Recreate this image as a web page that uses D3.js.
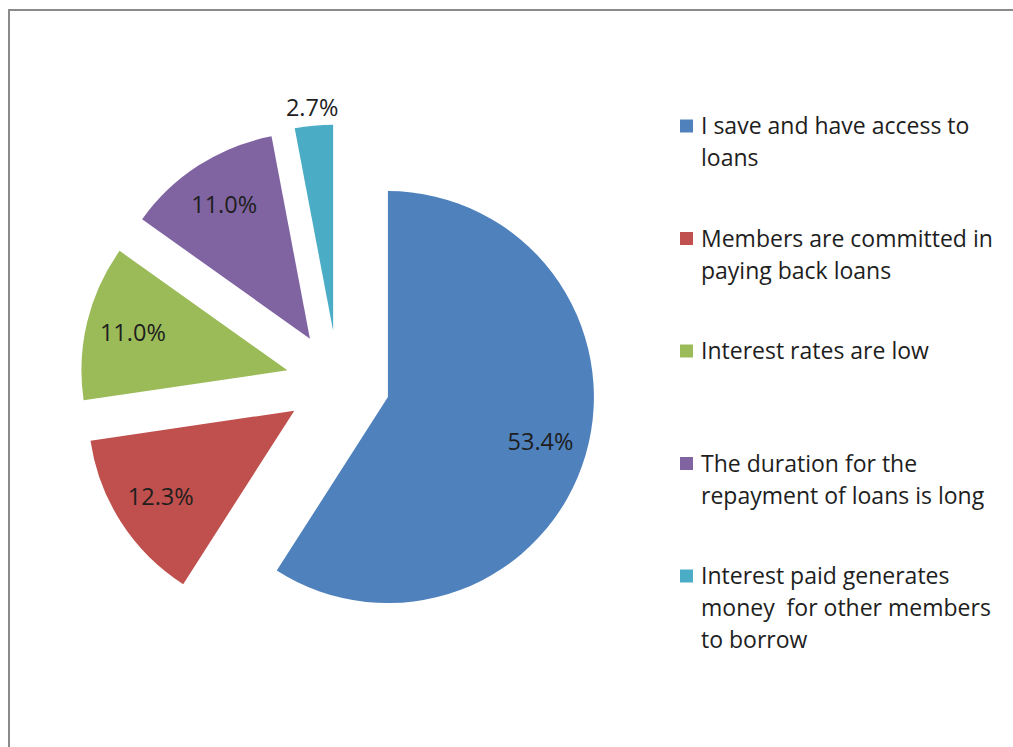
<!DOCTYPE html>
<html>
<head>
<meta charset="utf-8">
<script src="https://cdn.jsdelivr.net/npm/d3@7"></script>
<style>
  html, body { margin: 0; padding: 0; background: #fff; }
  svg { display: block; }
  text { font-family: "Open Sans", Lato, sans-serif; fill: #1e1e1e; }
</style>
</head>
<body>
<svg id="chart" width="1013" height="747"></svg>
<script>
// Reasons given for preferring the savings group
const categories = [
  "I save and have access to loans",
  "Members are committed in paying back loans",
  "Interest rates are low",
  "The duration for the repayment of loans is long",
  "Interest paid generates money  for other members to borrow"
];
const values = [53.4, 12.3, 11.0, 11.0, 2.7];
const colors = ["#4F81BD", "#C0504D", "#9BBB59", "#8064A2", "#4BACC6"];
// Legend text, wrapped the way it is shown
const legendLines = [
  ["I save and have access to", "loans"],
  ["Members are committed in", "paying back loans"],
  ["Interest rates are low"],
  ["The duration for the", "repayment of loans is long"],
  ["Interest paid generates", "money  for other members", "to borrow"]
];

const svg = d3.select("#chart");
const W = 1013, H = 747;

svg.append("rect").attr("width", W).attr("height", H).attr("fill", "#fff");
// chart area frame
svg.append("rect")
  .attr("x", 9).attr("y", 10)
  .attr("width", 1200).attr("height", 900)
  .attr("fill", "none")
  .attr("stroke", "#8a8a8a")
  .attr("stroke-width", 2);

const cx = 338, cy = 382.5, radius = 206, explode = 52;
const labelR = 159, outsideLabelR = 224;

const pie = d3.pie().sort(null).value(d => d)(values);
const arc = d3.arc().innerRadius(0).outerRadius(radius);
const color = d3.scaleOrdinal().domain(categories).range(colors);

const g = svg.append("g").attr("transform", `translate(${cx},${cy})`);

const slices = g.selectAll("g.slice")
  .data(pie)
  .join("g")
  .attr("class", "slice")
  .attr("transform", d => {
    const a = (d.startAngle + d.endAngle) / 2;
    return `translate(${Math.sin(a) * explode},${-Math.cos(a) * explode})`;
  });

slices.append("path")
  .attr("d", arc)
  .attr("fill", (d, i) => color(categories[i]));

function labelPos(d) {
  const a = (d.startAngle + d.endAngle) / 2;
  const r = (d.endAngle - d.startAngle) < 0.3 ? outsideLabelR : labelR;
  return [Math.sin(a) * r, -Math.cos(a) * r];
}

slices.append("text")
  .attr("text-anchor", "middle")
  .attr("dy", "0.35em")
  .attr("font-size", 23.5)
  .attr("x", d => labelPos(d)[0])
  .attr("y", d => labelPos(d)[1])
  .text(d => d.value.toFixed(1) + "%");

// Legend
const legendY = d3.scalePoint().domain(categories).range([126, 576]);
const lineH = 32;
const legend = svg.append("g");
const items = legend.selectAll("g.item")
  .data(categories)
  .join("g")
  .attr("class", "item")
  .attr("transform", d => `translate(680,${legendY(d)})`);

items.append("rect")
  .attr("x", 0).attr("y", -6.5)
  .attr("width", 13).attr("height", 13)
  .attr("fill", d => color(d));

items.append("text")
  .attr("font-size", 23)
  .style("white-space", "pre")
  .selectAll("tspan")
  .data((d, i) => legendLines[i])
  .join("tspan")
  .attr("x", 21)
  .attr("y", (d, j) => j * lineH)
  .attr("dy", "0.35em")
  .text(d => d);
</script>
</body>
</html>
